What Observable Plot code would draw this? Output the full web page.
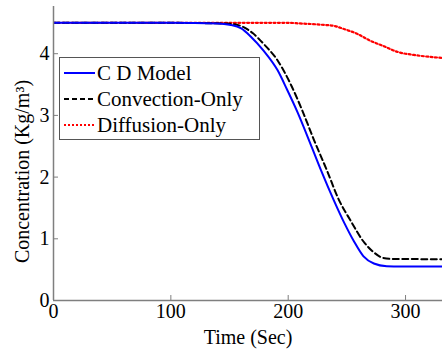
<!DOCTYPE html>
<html>
<head>
<meta charset="utf-8">
<script src="https://cdn.jsdelivr.net/npm/d3@7"></script>
<script src="https://cdn.jsdelivr.net/npm/@observablehq/plot@0.6"></script>
<style>
  html, body { margin: 0; padding: 0; background: #fff; }
  #wrap { position: relative; width: 442px; height: 349px; overflow: hidden; }
  #legend { position: absolute; left: 59px; top: 57px; width: 199px; height: 81px; border: 1px solid #555; background: #fff;
            font-family: "Liberation Serif", "Tinos", "Times New Roman", "DejaVu Serif", serif; font-size: 21px; color: #000; }
  .row { position: absolute; left: 0; height: 26px; display: flex; align-items: center; white-space: nowrap; }
  .row svg { margin-left: 4px; margin-right: 2px; }
</style>
</head>
<body>
<div id="wrap"></div>
<script>
// Data
const cdTime   = [0, 100, 140, 150, 160, 168, 179, 191, 199, 208, 220, 228, 239, 248, 256, 264, 273, 284, 296, 332];
const cdConc   = [4.5, 4.5, 4.49, 4.47, 4.41, 4.28, 4.05, 3.73, 3.42, 3.05, 2.49, 2.11, 1.62, 1.25, 0.96, 0.72, 0.6, 0.556, 0.55, 0.55];
const convTime = [0, 100, 150, 162, 170, 179, 191, 202, 212, 222, 233, 243, 253, 264, 273, 281, 290, 332];
const convConc = [4.5, 4.5, 4.485, 4.43, 4.33, 4.16, 3.89, 3.51, 3.08, 2.6, 2.11, 1.64, 1.3, 0.96, 0.78, 0.69, 0.672, 0.67];
const diffTime = [0, 200, 210, 228, 239, 247.5, 259, 270, 281.6, 293, 307, 320, 332];
const diffConc = [4.5, 4.5, 4.49, 4.47, 4.45, 4.4, 4.32, 4.21, 4.12, 4.03, 3.98, 3.95, 3.93];

const seriesNames = ["C D Model", "Convection-Only", "Diffusion-Only"];
const xTicks = [0, 100, 200, 300];
const yTicks = [0, 1, 2, 3, 4];
const xLabel = "Time (Sec)";
const yLabel = "Concentration (Kg/m³)";

const toRows = (ts, vs) => ts.map((t, i) => ({t, v: vs[i]}));
const cd = toRows(cdTime, cdConc);
const conv = toRows(convTime, convConc);
const diff = toRows(diffTime, diffConc);

const serif = "'Liberation Serif', 'Tinos', 'Times New Roman', 'DejaVu Serif', serif";
const gray = "#7f7f7f";
const W = 442, H = 349, mL = 53, mR = 0, mT = 6, mB = 49;
const fw = W - mL - mR, fh = H - mT - mB;

const chart = Plot.plot({
  width: W, height: H,
  marginLeft: mL, marginRight: mR, marginTop: mT, marginBottom: mB,
  x: {domain: [0, 331.5]},
  y: {domain: [0, 4.765]},
  style: {fontFamily: serif, fontSize: "20px", background: "#fff", color: "#000", overflow: "visible"},
  marks: [
    Plot.line(diff, {x: "t", y: "v", stroke: "#ff0000", strokeWidth: 2.2, strokeDasharray: "2,2.4", curve: "monotone-x", clip: true}),
    Plot.line(conv, {x: "t", y: "v", stroke: "#000", strokeWidth: 2, strokeDasharray: "6,3.5", curve: "monotone-x", clip: true}),
    Plot.line(cd, {x: "t", y: "v", stroke: "#0000ff", strokeWidth: 2, curve: "monotone-x", clip: true}),
    Plot.tickX(xTicks, {x: d => d, stroke: gray, insetTop: fh - 5}),
    Plot.tickY(yTicks, {y: d => d, stroke: gray, insetRight: fw - 5}),
    Plot.ruleY([0], {stroke: gray, strokeWidth: 1.5}),
    Plot.ruleX([0], {stroke: gray, strokeWidth: 1.5}),
    Plot.axisX(xTicks, {tickSize: 0, tickPadding: 3, tickFormat: d => String(d), label: null, fill: "#000", fontSize: 20}),
    Plot.axisY(yTicks, {tickSize: 0, tickPadding: 4, tickFormat: d => String(d), label: null, fill: "#000", fontSize: 20}),
    Plot.text([xLabel], {frameAnchor: "bottom", dy: 37, lineAnchor: "middle", textAnchor: "middle", fill: "#000", fontSize: 20}),
    Plot.text([yLabel], {frameAnchor: "left", dx: -31, dy: 18, rotate: -90, lineAnchor: "middle", textAnchor: "middle", fill: "#000", fontSize: 20})
  ]
});
const wrap = document.getElementById("wrap");
wrap.appendChild(chart);

// Legend
const legendStyles = [
  {stroke: "#0000ff", dash: null, width: 2},
  {stroke: "#000", dash: "5,3", width: 2},
  {stroke: "#ff0000", dash: "2,2", width: 2.2}
];
const legend = document.createElement("div");
legend.id = "legend";
seriesNames.forEach((name, i) => {
  const row = document.createElement("div");
  row.className = "row";
  row.style.top = (2 + i * 26) + "px";
  const s = legendStyles[i];
  row.innerHTML = `<svg width="31" height="10"><line x1="0" x2="31" y1="5" y2="5" stroke="${s.stroke}" stroke-width="${s.width}" ${s.dash ? `stroke-dasharray="${s.dash}"` : ""}/></svg><span>${name}</span>`;
  legend.appendChild(row);
});
wrap.appendChild(legend);
</script>
</body>
</html>
